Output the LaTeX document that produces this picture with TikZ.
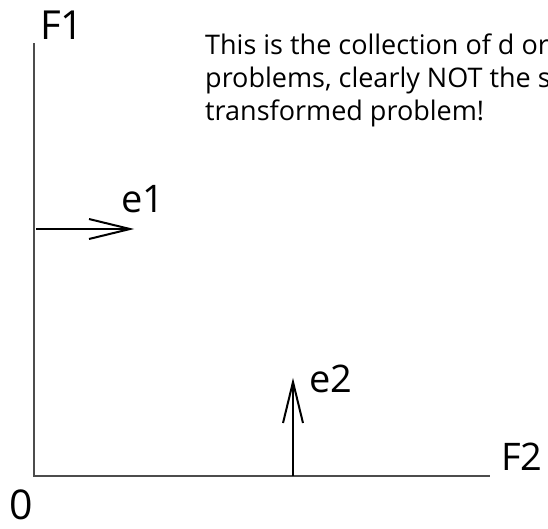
\documentclass[tikz,border=0pt]{standalone}
\usepackage{fontspec}
\setmainfont{Open Sans}
\begin{document}
\begin{tikzpicture}[x=1pt,y=-1pt,
  axis/.style={draw=black!70,line width=1.5pt},
  vec/.style={draw=black,line width=2pt},
  lbl/.style={inner sep=0pt,anchor=base west,font=\fontsize{38}{40}\selectfont},
  note/.style={inner sep=0pt,anchor=base west,font=\fontsize{27}{33}\selectfont}]
\useasboundingbox (0,0) rectangle (548,528);
\coordinate (o) at (34,476);
\coordinate (ytop) at (34,43);
\coordinate (xend) at (490,476);
\draw[axis] (ytop) -- (o) -- (xend);
% e1
\coordinate (e1s) at (36,229);
\coordinate (e1t) at (130,229);
\coordinate (e1a) at (89,219);
\coordinate (e1b) at (89,239);
\draw[vec] (e1s) -- (e1t);
\draw[vec] (e1a) -- (e1t) -- (e1b);
% e2
\coordinate (e2s) at (293,476);
\coordinate (e2t) at (293,382);
\coordinate (e2a) at (283,423);
\coordinate (e2b) at (303,423);
\draw[vec] (e2s) -- (e2t);
\draw[vec] (e2a) -- (e2t) -- (e2b);
% labels
\node[lbl,font=\fontsize{40}{42}\selectfont] (F1) at (40,39) {F1};
\node[lbl] (le1) at (121,212) {e1};
\node[lbl] (le2) at (309,392) {e2};
\node[lbl] (F2) at (501,470) {F2};
\node[lbl,text depth=0pt,font=\fontsize{41}{42}\selectfont] (zero) at (9,519) {0};
\node[note] (n1) at (205,54) {This is the collection of d or};
\node[note] (n2) at (205,87) {problems, clearly NOT the s};
\node[note] (n3) at (205,120) {transformed problem!};
\end{tikzpicture}
\end{document}
